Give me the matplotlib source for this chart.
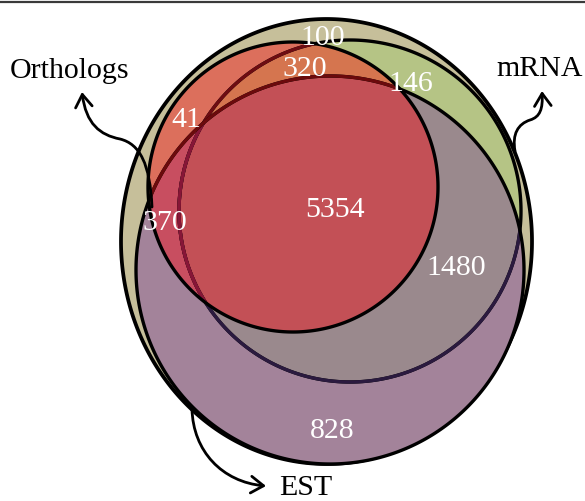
import numpy as np
import matplotlib
matplotlib.use('Agg')
import matplotlib.pyplot as plt
from matplotlib.path import Path
from matplotlib.patches import Polygon, FancyArrowPatch

plt.rcParams['font.family'] = ['Liberation Serif', 'DejaVu Serif']

# set names and region counts (region = which sets it belongs to)
sets = ['Orthologs', 'mRNA', 'EST']
regions = ['none', 'O&M', 'M', 'O', 'O&M&E', 'O&E', 'M&E', 'E']
counts = [100, 320, 146, 41, 5354, 370, 1480, 828]

# layout (pixel space of the 585x502 image)
count_xy = [(323, 45), (305, 76), (411, 91), (186, 127),
            (335, 217), (165, 230), (456, 275), (332, 438)]
label_xy = [(70, 78), (540, 76), (306, 495)]

# ellipses: cx, cy, rx, ry
shape_T = (326.5, 242.5, 205.5, 222.5)
shape_O = (293, 188, 145, 145)
shape_M = (350, 212, 171, 171)
shape_E = (330, 271, 194, 194)

colors = {
    'T': '#c6bf9a', 'M': '#b5c485', 'E': '#a3839a', 'M&E': '#9a898d',
    'O': '#dc6f5c', 'O&M': '#d5754f', 'O&E': '#c84e60', 'O&M&E': '#c35056',
}


def ellipse(cx, cy, rx, ry, n=1200):
    t = np.linspace(0, 2 * np.pi, n, endpoint=False)
    return np.column_stack([cx + rx * np.cos(t), cy + ry * np.sin(t)])


def overlap(a, b):
    # intersection of two convex outlines
    pa, pb = Path(a), Path(b)
    pts = np.vstack([a[pb.contains_points(a)], b[pa.contains_points(b)]])
    c = pts.mean(axis=0)
    ang = np.arctan2(pts[:, 1] - c[1], pts[:, 0] - c[0])
    return pts[np.argsort(ang)]


fig = plt.figure(figsize=(5.85, 5.02), dpi=100)
ax = fig.add_axes([0, 0, 1, 1])
ax.set_xlim(0, 585)
ax.set_ylim(502, 0)
ax.axis('off')


def fill(pts, color, clip=None):
    p = Polygon(pts, closed=True, fc=color, ec='none')
    ax.add_patch(p)
    if clip is not None:
        p.set_clip_path(clip)
    return p


def edge(pts, color, lw=2.4, clip=None):
    p = Polygon(pts, closed=True, fill=False, ec=color, lw=lw)
    ax.add_patch(p)
    if clip is not None:
        p.set_clip_path(clip)
    return p


T = ellipse(*shape_T)
O = ellipse(*shape_O)
M = ellipse(*shape_M)
E = ellipse(*shape_E)

pT = fill(T, colors['T'])
edge(T, 'black', 2.7)
pM = fill(M, colors['M'])
pE = fill(E, colors['E'])
fill(M, colors['M&E'], clip=pE)
pO = fill(O, colors['O'])
fill(M, colors['O&M'], clip=pO)
fill(E, colors['O&E'], clip=pO)
fill(overlap(M, E), colors['O&M&E'], clip=pO)

# outlines, tinted where later shapes lie over them
pOE = Polygon(overlap(O, E), closed=True, fill=False, ec='none')
ax.add_patch(pOE)
edge(M, 'black')
edge(M, '#2b1a3f', clip=pE)
edge(M, '#6e0c12', clip=pO)
edge(M, '#861637', clip=pOE)
edge(E, 'black')
edge(E, '#6b0a0c', clip=pO)
edge(O, 'black')

# counts
for (x, y), n in zip(count_xy, counts):
    ax.text(x, y, str(n), color='white', fontsize=21.5, ha='center', va='baseline')

# set labels
for (x, y), s in zip(label_xy, sets):
    ax.text(x, y, s, color='black', fontsize=21.5, ha='center', va='baseline')

# curved arrows from shapes to labels
C = Path.CURVE4
arrows = [
    Path([(152, 208), (150, 165), (140, 145), (120, 140),
          (100, 136), (86, 125), (82, 93)],
         [Path.MOVETO, C, C, C, C, C, C]),
    Path([(515, 152), (512, 135), (518, 125), (530, 121),
          (540, 118), (543, 110), (542, 92)],
         [Path.MOVETO, C, C, C, C, C, C]),
    Path([(192, 410), (193, 452), (222, 483), (266, 487)],
         [Path.MOVETO, C, C, C]),
]
for p in arrows:
    ax.add_patch(FancyArrowPatch(path=p, arrowstyle='->,head_length=0.45,head_width=0.3',
                                 mutation_scale=20, lw=2.0, color='black'))

ax.axhline(2.5, color='#3a3a3a', lw=1.6)

fig.savefig('out.png', dpi=100)
